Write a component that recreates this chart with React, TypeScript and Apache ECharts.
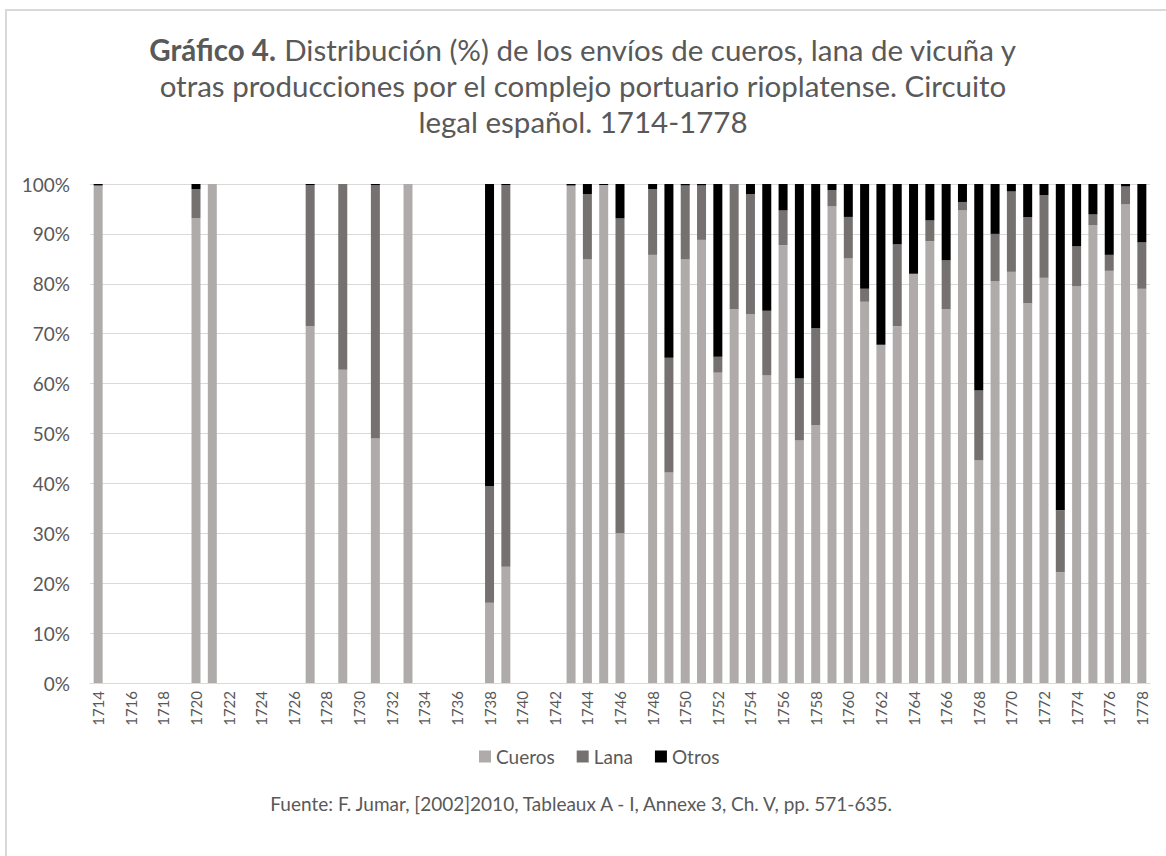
import React, { useEffect, useRef } from "react";
import * as echarts from "echarts";

const years: string[] = [
  "1714","1715","1716","1717","1718","1719","1720","1721","1722","1723","1724","1725","1726","1727","1728","1729",
  "1730","1731","1732","1733","1734","1735","1736","1737","1738","1739","1740","1741","1742","1743","1744","1745",
  "1746","1747","1748","1749","1750","1751","1752","1753","1754","1755","1756","1757","1758","1759","1760","1761",
  "1762","1763","1764","1765","1766","1767","1768","1769","1770","1771","1772","1773","1774","1775","1776","1777","1778",
];

const cueros: (number | null)[] = [
  99.7, null, null, null, null, null, 93.1, 100, null, null, null, null, null, 71.5, null, 62.8,
  null, 49.0, null, 100, null, null, null, null, 16.1, 23.3, null, null, null, 99.7, 84.9, 99.8,
  30.0, null, 85.8, 42.2, 84.9, 88.8, 62.2, 74.9, 73.9, 61.7, 87.7, 48.6, 51.7, 95.5, 85.1, 76.4,
  67.8, 71.5, 82.0, 88.5, 74.9, 94.7, 44.6, 80.5, 82.4, 76.1, 81.2, 22.2, 79.5, 91.7, 82.6, 95.9, 79.0,
];

const lana: (number | null)[] = [
  0, null, null, null, null, null, 5.9, 0, null, null, null, null, null, 28.3, null, 37.2,
  null, 50.8, null, 0, null, null, null, null, 23.4, 76.5, null, null, null, 0, 13.1, 0,
  63.1, null, 13.2, 23.0, 14.8, 10.9, 3.2, 25.1, 24.1, 12.9, 7.0, 12.4, 19.4, 3.3, 8.3, 2.6,
  0, 16.4, 0, 4.2, 9.8, 1.7, 14.0, 9.5, 16.1, 17.3, 16.6, 12.4, 8.0, 2.2, 3.2, 3.6, 9.3,
];

const otros: (number | null)[] = [
  0.3, null, null, null, null, null, 1.0, 0, null, null, null, null, null, 0.2, null, 0,
  null, 0.2, null, 0, null, null, null, null, 60.5, 0.2, null, null, null, 0.3, 2.0, 0.2,
  6.9, null, 1.0, 34.8, 0.3, 0.3, 34.6, 0, 2.0, 25.4, 5.3, 39.0, 28.9, 1.2, 6.6, 21.0,
  32.2, 12.1, 18.0, 7.3, 15.3, 3.6, 41.4, 10.0, 1.5, 6.6, 2.2, 65.4, 12.5, 6.1, 14.2, 0.5, 11.7,
];

const seriesNames = ["Cueros", "Lana", "Otros"];
const seriesColors = ["#afabab", "#767171", "#000000"];

const FONT = "Lato, 'Open Sans', sans-serif";
const TEXT = "#595959";

export default function App() {
  const ref = useRef<HTMLDivElement>(null);

  useEffect(() => {
    if (!ref.current) return;
    const chart = echarts.init(ref.current, undefined, { renderer: "svg" });
    const dataSets = [cueros, lana, otros];
    chart.setOption({
      animation: false,
      backgroundColor: "#ffffff",
      textStyle: { fontFamily: FONT },
      title: {
        text:
          "{b|Gráfico 4.} Distribución (%) de los envíos de cueros, lana de vicuña y\notras producciones por el complejo portuario rioplatense. Circuito\nlegal español. 1714-1778",
        left: "center",
        top: 26,
        textStyle: {
          fontFamily: FONT,
          fontSize: 29.5,
          fontWeight: "normal",
          color: TEXT,
          lineHeight: 36,
          rich: {
            b: { fontFamily: FONT, fontSize: 29.5, fontWeight: "bold", color: TEXT, lineHeight: 36 },
          },
        },
      },
      legend: {
        data: seriesNames,
        top: 742,
        left: 474,
        icon: "rect",
        itemWidth: 12,
        itemHeight: 12,
        itemGap: 22,
        itemStyle: { borderWidth: 0 },
        textStyle: { fontFamily: FONT, fontSize: 19, color: TEXT },
      },
      grid: { left: 90, right: 16, top: 184, bottom: 173, containLabel: false },
      xAxis: {
        type: "category",
        data: years,
        axisLine: { lineStyle: { color: "#d9d9d9" } },
        axisTick: { show: false },
        axisLabel: {
          interval: 1,
          rotate: 90,
          fontFamily: FONT,
          fontSize: 15,
          color: TEXT,
          margin: 8,
        },
      },
      yAxis: {
        type: "value",
        min: 0,
        max: 100,
        interval: 10,
        axisLine: { show: false },
        axisTick: { show: false },
        axisLabel: { formatter: "{value}%", fontFamily: FONT, fontSize: 19, color: TEXT, margin: 20 },
        splitLine: { lineStyle: { color: "#d9d9d9", width: 1 } },
      },
      series: seriesNames.map((name, i) => ({
        name,
        type: "bar",
        stack: "total",
        barWidth: 9,
        itemStyle: { color: seriesColors[i] },
        data: dataSets[i],
      })),
      graphic: [
        {
          type: "rect",
          z: -10,
          silent: true,
          shape: { x: 6, y: 10, width: 1200, height: 900 },
          style: { fill: "none", stroke: "#d9d9d9", lineWidth: 2 },
        },
        {
          type: "text",
          left: "center",
          top: 794,
          style: {
            text: "Fuente: F. Jumar, [2002]2010, Tableaux A - I, Annexe 3, Ch. V, pp. 571-635.",
            fontFamily: FONT,
            fontSize: 19,
            fill: TEXT,
          },
        },
      ],
    });
    return () => chart.dispose();
  }, []);

  return (
    <div
      ref={ref}
      style={{ position: "absolute", left: 0, top: 0, width: 1166, height: 856 }}
    />
  );
}
